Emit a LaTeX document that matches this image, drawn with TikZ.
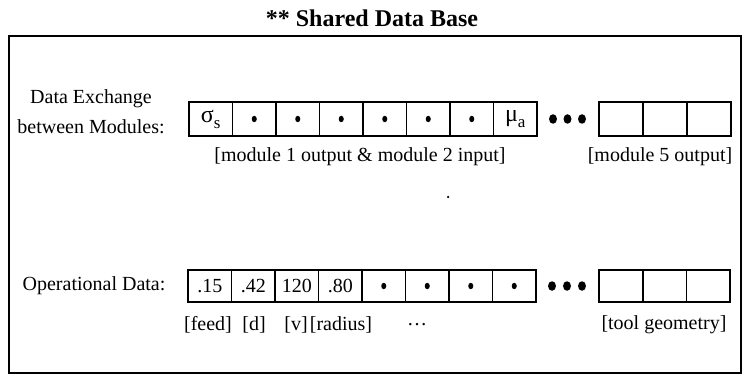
\documentclass[tikz,border=0pt]{standalone}
\usepackage{fontspec}
\setmainfont{Liberation Serif}
\usetikzlibrary{shapes.geometric}
\newcommand\lowsub[1]{\raisebox{-0.3em}{\fontsize{17}{17}\selectfont #1}}
\newcommand\greekbig[1]{{\fontsize{24}{24}\selectfont #1}}
\begin{document}
\begin{tikzpicture}[x=1pt,y=-1pt,
  txt/.style={font=\fontsize{20}{30}\selectfont, inner sep=0pt},
  cellbox/.style={draw, line width=1.6pt, minimum width=43.5pt, minimum height=34pt, inner sep=0pt, font=\fontsize{20}{24}\selectfont},
  cellboxb/.style={cellbox, minimum height=32pt},
  smalldot/.style={ellipse, fill, minimum width=5pt, minimum height=6.5pt, inner sep=0pt},
  bigdot/.style={ellipse, fill, minimum width=8pt, minimum height=9.5pt, inner sep=0pt}
]
\useasboundingbox (0,0) rectangle (744,382);
% title and frame
\node[font=\fontsize{24}{28}\selectfont\bfseries, inner sep=0pt] (title) at (372,18) {** Shared Data Base};
\node[draw, line width=2.2pt, minimum width=732pt, minimum height=337pt, inner sep=0pt] (frame) at (375,204.5) {};
% row 1
\node[txt, align=center] (lab1) at (91,112) {Data Exchange\\between Modules:};
\node[cellbox] (a0) at ({189+21.75},119) {\greekbig{σ}\lowsub{s}};
\foreach \i in {1,...,6}
  \node[cellbox] (a\i) at ({189+43.5*\i+21.75},119) {};
\foreach \i in {1,...,6}
  \node[smalldot] (ab\i) at (a\i.center) {};
\node[cellbox] (a7) at ({189+43.5*7+21.75},119) {\greekbig{μ}\lowsub{a}};
\foreach \i/\x in {0/553,1/567.5,2/582}
  \node[bigdot] (ad\i) at (\x,119) {};
\foreach \i in {0,1,2}
  \node[cellbox, minimum width=44pt] (ar\i) at ({599+44*\i+22},119) {};
\node[txt] (m12) at (360,157) {[module 1 output \& module 2 input]};
\node[txt] (m5) at (660,157) {[module 5 output]};
\node[circle, fill, minimum size=2.5pt, inner sep=0pt] (speck) at (448,197) {};
% row 2
\node[txt] (lab2) at (94,286) {Operational Data:};
\foreach \t [count=\i from 0] in {.15,.42,120,.80}
  \node[cellboxb] (b\i) at ({188+43.5*\i+21.75},286) {\t};
\foreach \i in {4,...,7}
  \node[cellboxb] (b\i) at ({188+43.5*\i+21.75},286) {};
\foreach \i in {4,...,7}
  \node[smalldot] (bb\i) at (b\i.center) {};
\foreach \i/\x in {0/552,1/567,2/582}
  \node[bigdot] (bd\i) at (\x,286) {};
\foreach \i in {0,1,2}
  \node[cellboxb, minimum width=43.7pt] (br\i) at ({599+43.7*\i+21.85},286) {};
\node[txt] (lfeed) at (208,325) {[feed]};
\node[txt] (ld) at (254,325) {[d]};
\node[txt] (lv) at (296,325) {[v]};
\node[txt] (lrad) at (341,325) {[radius]};
\node[txt] (lell) at (417,325) {\dots};
\node[txt] (ltool) at (664,325) {[tool geometry]};
\end{tikzpicture}
\end{document}
